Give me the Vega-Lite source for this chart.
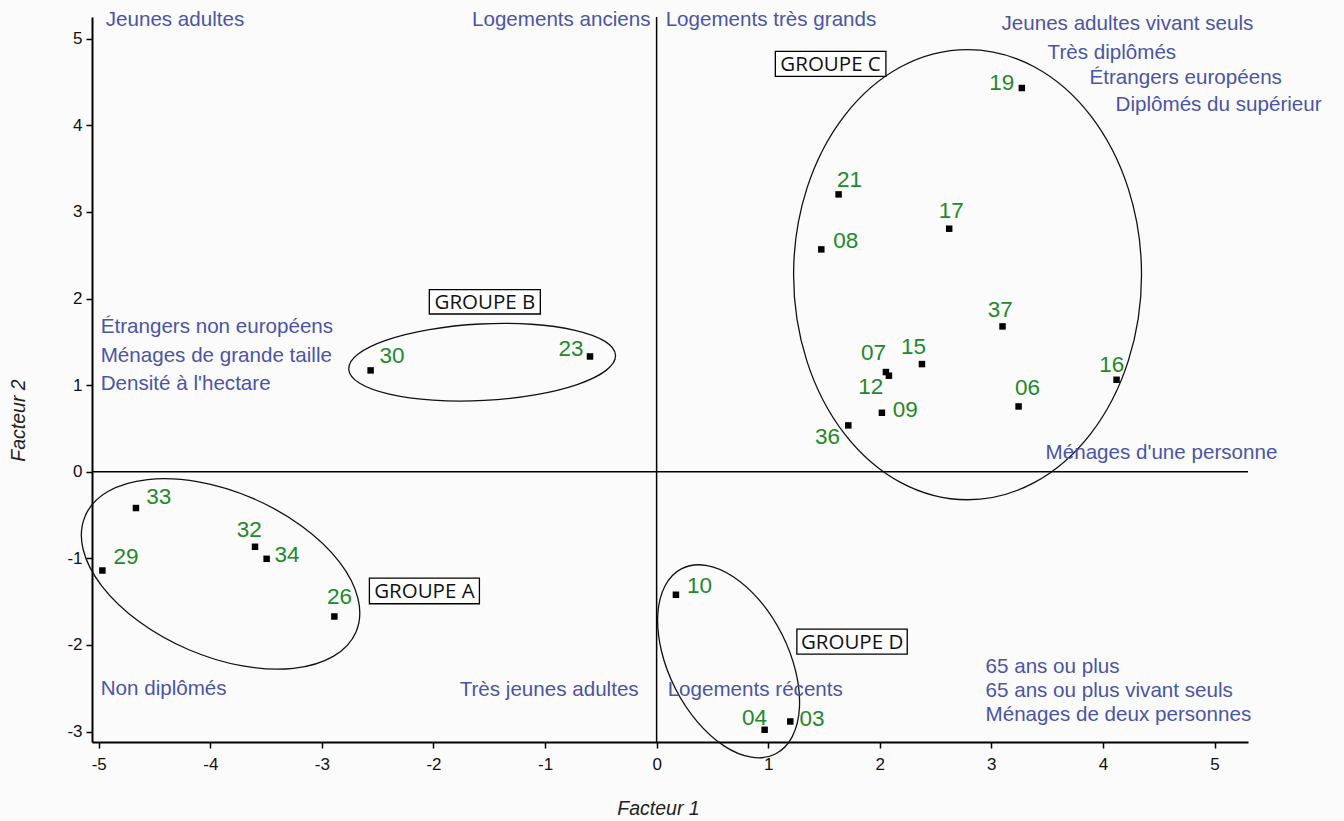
{
  "$schema": "https://vega.github.io/schema/vega-lite/v6.json",
  "width": 1156,
  "height": 725,
  "autosize": {"type": "none"},
  "padding": {"left": 92, "top": 17, "right": 96, "bottom": 79},
  "background": "#fbfbfb",
  "config": {
    "view": {"stroke": null},
    "axis": {
      "grid": false,
      "domainColor": "#000000",
      "domainWidth": 2,
      "tickColor": "#000000",
      "tickWidth": 1.5,
      "tickSize": 6,
      "labelFont": "Liberation Sans",
      "labelFontSize": 17,
      "labelColor": "#111111",
      "labelExpr": "replace(datum.label, '\u2212', '-')",
      "titleFont": "Liberation Sans",
      "titleFontSize": 19.5,
      "titleFontStyle": "italic",
      "titleFontWeight": "normal",
      "titleColor": "#222222"
    }
  },
  "datasets": {
    "points": [
      {"id": "19", "x": 3.273, "y": 4.430},
      {"id": "21", "x": 1.631, "y": 3.202},
      {"id": "17", "x": 2.622, "y": 2.806},
      {"id": "08", "x": 1.476, "y": 2.567},
      {"id": "37", "x": 3.100, "y": 1.678},
      {"id": "07", "x": 2.055, "y": 1.151},
      {"id": "12", "x": 2.082, "y": 1.109},
      {"id": "15", "x": 2.378, "y": 1.243},
      {"id": "16", "x": 4.122, "y": 1.062},
      {"id": "06", "x": 3.244, "y": 0.754},
      {"id": "09", "x": 2.019, "y": 0.681},
      {"id": "36", "x": 1.718, "y": 0.535},
      {"id": "30", "x": -2.563, "y": 1.170},
      {"id": "23", "x": -0.597, "y": 1.331},
      {"id": "33", "x": -4.666, "y": -0.419},
      {"id": "29", "x": -4.967, "y": -1.140},
      {"id": "32", "x": -3.599, "y": -0.866},
      {"id": "34", "x": -3.495, "y": -1.005},
      {"id": "26", "x": -2.888, "y": -1.671},
      {"id": "10", "x": 0.173, "y": -1.420},
      {"id": "04", "x": 0.968, "y": -2.979},
      {"id": "03", "x": 1.198, "y": -2.883}
    ],
    "labels": [
      {"id": "19", "x": 3.094, "y": 4.488},
      {"id": "21", "x": 1.729, "y": 3.372},
      {"id": "17", "x": 2.640, "y": 3.006},
      {"id": "08", "x": 1.696, "y": 2.667},
      {"id": "37", "x": 3.080, "y": 1.871},
      {"id": "07", "x": 1.944, "y": 1.370},
      {"id": "15", "x": 2.303, "y": 1.440},
      {"id": "16", "x": 4.080, "y": 1.236},
      {"id": "12", "x": 1.920, "y": 0.974},
      {"id": "06", "x": 3.324, "y": 0.966},
      {"id": "09", "x": 2.228, "y": 0.716},
      {"id": "36", "x": 1.532, "y": 0.400},
      {"id": "30", "x": -2.372, "y": 1.339},
      {"id": "23", "x": -0.768, "y": 1.417},
      {"id": "33", "x": -4.462, "y": -0.292},
      {"id": "29", "x": -4.755, "y": -0.985},
      {"id": "32", "x": -3.650, "y": -0.670},
      {"id": "34", "x": -3.313, "y": -0.966},
      {"id": "26", "x": -2.841, "y": -1.447},
      {"id": "10", "x": 0.385, "y": -1.324},
      {"id": "04", "x": 0.878, "y": -2.844},
      {"id": "03", "x": 1.392, "y": -2.856}
    ],
    "ellipses": [
      {"g": "C", "k": 1, "x": 4.3458, "y": 2.2748},
      {"g": "C", "k": 2, "x": 4.2272, "y": 3.2691},
      {"g": "C", "k": 3, "x": 3.8892, "y": 4.1120},
      {"g": "C", "k": 4, "x": 3.3834, "y": 4.6753},
      {"g": "C", "k": 5, "x": 2.7867, "y": 4.8730},
      {"g": "C", "k": 6, "x": 2.1900, "y": 4.6753},
      {"g": "C", "k": 7, "x": 1.6842, "y": 4.1120},
      {"g": "C", "k": 8, "x": 1.3462, "y": 3.2691},
      {"g": "C", "k": 9, "x": 1.2276, "y": 2.2748},
      {"g": "C", "k": 10, "x": 1.3462, "y": 1.2805},
      {"g": "C", "k": 11, "x": 1.6842, "y": 0.4376},
      {"g": "C", "k": 12, "x": 2.1900, "y": -0.1257},
      {"g": "C", "k": 13, "x": 2.7867, "y": -0.3234},
      {"g": "C", "k": 14, "x": 3.3834, "y": -0.1257},
      {"g": "C", "k": 15, "x": 3.8892, "y": 0.4376},
      {"g": "C", "k": 16, "x": 4.2272, "y": 1.2805},
      {"g": "A", "k": 1, "x": -2.694, "y": -1.850},
      {"g": "A", "k": 2, "x": -2.898, "y": -2.132},
      {"g": "A", "k": 3, "x": -3.254, "y": -2.270},
      {"g": "A", "k": 4, "x": -3.711, "y": -2.242},
      {"g": "A", "k": 5, "x": -4.197, "y": -2.052},
      {"g": "A", "k": 6, "x": -4.639, "y": -1.729},
      {"g": "A", "k": 7, "x": -4.970, "y": -1.323},
      {"g": "A", "k": 8, "x": -5.140, "y": -0.895},
      {"g": "A", "k": 9, "x": -5.121, "y": -0.510},
      {"g": "A", "k": 10, "x": -4.918, "y": -0.228},
      {"g": "A", "k": 11, "x": -4.561, "y": -0.090},
      {"g": "A", "k": 12, "x": -4.105, "y": -0.118},
      {"g": "A", "k": 13, "x": -3.618, "y": -0.308},
      {"g": "A", "k": 14, "x": -3.176, "y": -0.631},
      {"g": "A", "k": 15, "x": -2.845, "y": -1.037},
      {"g": "A", "k": 16, "x": -2.676, "y": -1.465},
      {"g": "B", "k": 1, "x": -0.3683, "y": 1.3452},
      {"g": "B", "k": 2, "x": -0.4524, "y": 1.1703},
      {"g": "B", "k": 3, "x": -0.7057, "y": 1.0096},
      {"g": "B", "k": 4, "x": -1.0897, "y": 0.8878},
      {"g": "B", "k": 5, "x": -1.5457, "y": 0.8233},
      {"g": "B", "k": 6, "x": -2.0045, "y": 0.8260},
      {"g": "B", "k": 7, "x": -2.3961, "y": 0.8954},
      {"g": "B", "k": 8, "x": -2.6610, "y": 1.0209},
      {"g": "B", "k": 9, "x": -2.7589, "y": 1.1836},
      {"g": "B", "k": 10, "x": -2.6748, "y": 1.3585},
      {"g": "B", "k": 11, "x": -2.4215, "y": 1.5192},
      {"g": "B", "k": 12, "x": -2.0375, "y": 1.6410},
      {"g": "B", "k": 13, "x": -1.5815, "y": 1.7055},
      {"g": "B", "k": 14, "x": -1.1227, "y": 1.7028},
      {"g": "B", "k": 15, "x": -0.7311, "y": 1.6334},
      {"g": "B", "k": 16, "x": -0.4662, "y": 1.5079},
      {"g": "D", "k": 1, "x": 1.0646, "y": -3.2581},
      {"g": "D", "k": 2, "x": 0.8497, "y": -3.2958},
      {"g": "D", "k": 3, "x": 0.6036, "y": -3.1648},
      {"g": "D", "k": 4, "x": 0.3638, "y": -2.8853},
      {"g": "D", "k": 5, "x": 0.1669, "y": -2.4995},
      {"g": "D", "k": 6, "x": 0.0428, "y": -2.0663},
      {"g": "D", "k": 7, "x": 0.0104, "y": -1.6518},
      {"g": "D", "k": 8, "x": 0.0747, "y": -1.3188},
      {"g": "D", "k": 9, "x": 0.2258, "y": -1.1183},
      {"g": "D", "k": 10, "x": 0.4407, "y": -1.0806},
      {"g": "D", "k": 11, "x": 0.6868, "y": -1.2116},
      {"g": "D", "k": 12, "x": 0.9266, "y": -1.4911},
      {"g": "D", "k": 13, "x": 1.1235, "y": -1.8769},
      {"g": "D", "k": 14, "x": 1.2476, "y": -2.3101},
      {"g": "D", "k": 15, "x": 1.2800, "y": -2.7246},
      {"g": "D", "k": 16, "x": 1.2157, "y": -3.0576}
    ],
    "boxes": [
      {"name": "GROUPE A", "x": -2.574, "x2": -1.588, "y": -1.228, "y2": -1.524},
      {"name": "GROUPE B", "x": -2.037, "x2": -1.042, "y": 2.102, "y2": 1.821},
      {"name": "GROUPE C", "x": 1.064, "x2": 2.055, "y": 4.853, "y2": 4.565},
      {"name": "GROUPE D", "x": 1.257, "x2": 2.246, "y": -1.816, "y2": -2.105}
    ],
    "boxLabels": [
      {"name": "GROUPE A", "x": -2.081, "y": -1.376},
      {"name": "GROUPE B", "x": -1.539, "y": 1.961},
      {"name": "GROUPE C", "x": 1.559, "y": 4.709},
      {"name": "GROUPE D", "x": 1.752, "y": -1.961}
    ],
    "zeroV": [{"x": 0, "y": -3.12, "y2": 5.25}],
    "zeroH": [{"x": -5.06, "x2": 5.3, "y": 0}],
    "notesLeft": [
      {"t": "Jeunes adultes", "x": -4.937, "y": 5.21},
      {"t": "Logements très grands", "x": 0.081, "y": 5.21},
      {"t": "Jeunes adultes vivant seuls", "x": 3.091, "y": 5.173},
      {"t": "Très diplômés", "x": 3.504, "y": 4.838},
      {"t": "Étrangers européens", "x": 3.88, "y": 4.546},
      {"t": "Diplômés du supérieur", "x": 4.113, "y": 4.238},
      {"t": "Étrangers non européens", "x": -4.982, "y": 1.674},
      {"t": "Ménages de grande taille", "x": -4.982, "y": 1.339},
      {"t": "Densité à l'hectare", "x": -4.982, "y": 1.016},
      {"t": "Ménages d'une personne", "x": 3.486, "y": 0.219},
      {"t": "Non diplômés", "x": -4.982, "y": -2.506},
      {"t": "Logements récents", "x": 0.099, "y": -2.517},
      {"t": "65 ans ou plus", "x": 2.948, "y": -2.252},
      {"t": "65 ans ou plus vivant seuls", "x": 2.948, "y": -2.529},
      {"t": "Ménages de deux personnes", "x": 2.948, "y": -2.806}
    ],
    "notesRight": [
      {"t": "Logements anciens", "x": -0.054, "y": 5.21},
      {"t": "Très jeunes adultes", "x": -0.161, "y": -2.517}
    ]
  },
  "encoding": {
    "x": {
      "field": "x", "type": "quantitative",
      "scale": {"domain": [-5.06, 5.3], "nice": false, "zero": false},
      "axis": {"title": "Facteur 1", "values": [-5, -4, -3, -2, -1, 0, 1, 2, 3, 4, 5], "labelPadding": 8,
               "titleX": 566, "titleY": 66, "titleAlign": "center", "titleBaseline": "middle"}
    },
    "y": {
      "field": "y", "type": "quantitative",
      "scale": {"domain": [-3.12, 5.25], "nice": false, "zero": false},
      "axis": {"title": "Facteur 2", "values": [-3, -2, -1, 0, 1, 2, 3, 4, 5], "labelPadding": 4,
               "titleX": -74, "titleY": 403, "titleAlign": "center", "titleBaseline": "middle"}
    }
  },
  "layer": [
    {
      "data": {"name": "zeroV"},
      "mark": {"type": "rule", "color": "#000000", "strokeWidth": 1.5},
      "encoding": {"y2": {"field": "y2"}}
    },
    {
      "data": {"name": "zeroH"},
      "mark": {"type": "rule", "color": "#000000", "strokeWidth": 1.5},
      "encoding": {"x2": {"field": "x2"}}
    },
    {
      "data": {"name": "ellipses"},
      "mark": {"type": "line", "interpolate": "cardinal-closed", "color": "#111111", "strokeWidth": 1.3},
      "encoding": {
        "detail": {"field": "g"},
        "order": {"field": "k", "type": "quantitative"}
      }
    },
    {
      "data": {"name": "boxes"},
      "mark": {"type": "rect", "fill": "#ffffff", "stroke": "#000000", "strokeWidth": 1.3},
      "encoding": {"x2": {"field": "x2"}, "y2": {"field": "y2"}}
    },
    {
      "data": {"name": "boxLabels"},
      "mark": {"type": "text", "font": "Open Sans", "fontSize": 20.5, "color": "#111111", "align": "center", "baseline": "middle", "dy": 1},
      "encoding": {"text": {"field": "name"}}
    },
    {
      "data": {"name": "points"},
      "mark": {"type": "point", "shape": "square", "filled": true, "color": "#000000", "size": 42, "opacity": 1}
    },
    {
      "data": {"name": "labels"},
      "mark": {"type": "text", "font": "Liberation Sans", "fontSize": 22.5, "color": "#22892a", "align": "center", "baseline": "middle"},
      "encoding": {"text": {"field": "id"}}
    },
    {
      "data": {"name": "notesLeft"},
      "mark": {"type": "text", "font": "Liberation Sans", "fontSize": 20.6, "color": "#4a55a6", "align": "left", "baseline": "middle"},
      "encoding": {"text": {"field": "t"}}
    },
    {
      "data": {"name": "notesRight"},
      "mark": {"type": "text", "font": "Liberation Sans", "fontSize": 20.6, "color": "#4a55a6", "align": "right", "baseline": "middle"},
      "encoding": {"text": {"field": "t"}}
    }
  ]
}
